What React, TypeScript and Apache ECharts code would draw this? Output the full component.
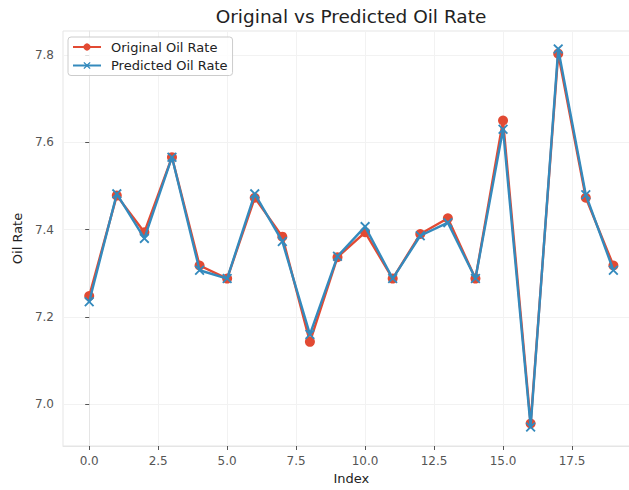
import React, { useEffect, useRef } from "react";
import * as echarts from "echarts";

const indices = [0, 1, 2, 3, 4, 5, 6, 7, 8, 9, 10, 11, 12, 13, 14, 15, 16, 17, 18, 19];
const originalOilRate = [7.248, 7.478, 7.394, 7.566, 7.318, 7.288, 7.473, 7.384, 7.143, 7.337, 7.394, 7.288, 7.39, 7.426, 7.288, 7.65, 6.956, 7.803, 7.473, 7.318];
const predictedOilRate = [7.235, 7.482, 7.38, 7.566, 7.307, 7.288, 7.482, 7.373, 7.16, 7.339, 7.407, 7.288, 7.386, 7.416, 7.288, 7.63, 6.948, 7.814, 7.48, 7.307];
const xTicks = [0, 2.5, 5, 7.5, 10, 12.5, 15, 17.5];
const yTicks = [7.0, 7.2, 7.4, 7.6, 7.8];

const RED = "#E24A33";
const BLUE = "#348ABD";
const FONT = "DejaVu Sans";
const X_PATH = "path://M0,1.3L1.3,0L5,3.7L8.7,0L10,1.3L6.3,5L10,8.7L8.7,10L5,6.3L1.3,10L0,8.7L3.7,5Z";

export default function App() {
  const ref = useRef<HTMLDivElement>(null);
  useEffect(() => {
    if (!ref.current) return;
    const chart = echarts.init(ref.current, undefined, { renderer: "svg" });
    const orig = indices.map((i, k) => [i, originalOilRate[k]]);
    const pred = indices.map((i, k) => [i, predictedOilRate[k]]);
    chart.setOption({
      animation: false,
      backgroundColor: "#ffffff",
      textStyle: { fontFamily: FONT },
      title: {
        text: "Original vs Predicted Oil Rate",
        left: 351,
        top: 7,
        padding: 0,
        textAlign: "center",
        textStyle: { fontSize: 18.5, fontWeight: "normal", color: "#222222", fontFamily: FONT },
      },
      legend: {
        orient: "vertical",
        left: 68,
        top: 37,
        padding: [3, 5, 3, 4],
        itemGap: 4.5,
        itemWidth: 28,
        itemHeight: 9,
        borderColor: "#cccccc",
        borderWidth: 1,
        borderRadius: 3,
        backgroundColor: "rgba(255,255,255,0.8)",
        textStyle: { fontSize: 13, color: "#222222", fontFamily: FONT, lineHeight: 14, padding: [0, 0, 0, 5] },
        data: ["Original Oil Rate", "Predicted Oil Rate"],
      },
      grid: {
        left: 63,
        top: 31,
        width: 576.6,
        height: 420,
        show: true,
        borderColor: "#e5e5e5",
        borderWidth: 1,
        backgroundColor: "#ffffff",
      },
      xAxis: {
        type: "value",
        min: -0.95,
        max: 19.95,
        name: "Index",
        nameLocation: "middle",
        nameGap: 26,
        nameTextStyle: { fontSize: 13, color: "#222222", fontFamily: FONT },
        axisLine: { show: true, lineStyle: { color: "#e5e5e5", width: 1 } },
        axisTick: { show: true, length: 4, lineStyle: { color: "#555555" }, customValues: xTicks },
        axisLabel: {
          customValues: xTicks,
          margin: 9,
          fontSize: 12,
          color: "#555555",
          fontFamily: FONT,
          formatter: (v: number) => v.toFixed(1),
        },
        splitLine: { show: true, lineStyle: { color: "#f2f2f2", width: 1 } },
      },
      yAxis: {
        type: "value",
        min: 6.9045,
        max: 7.855,
        name: "Oil Rate",
        nameLocation: "middle",
        nameGap: 38,
        nameTextStyle: { fontSize: 13, color: "#222222", fontFamily: FONT },
        axisLine: { show: true, lineStyle: { color: "#e5e5e5", width: 1 } },
        axisTick: { show: true, length: 4, lineStyle: { color: "#555555" }, customValues: yTicks },
        axisLabel: {
          customValues: yTicks,
          margin: 9,
          fontSize: 12,
          color: "#555555",
          fontFamily: FONT,
          formatter: (v: number) => v.toFixed(1),
        },
        splitLine: { show: true, lineStyle: { color: "#f2f2f2", width: 1 } },
      },
      series: [
        {
          name: "Original Oil Rate",
          type: "line",
          data: orig,
          symbol: "circle",
          symbolSize: 10,
          showAllSymbol: true,
          lineStyle: { color: RED, width: 2.4 },
          itemStyle: { color: RED },
          z: 2,
        },
        {
          name: "Predicted Oil Rate",
          type: "line",
          data: pred,
          symbol: X_PATH,
          symbolSize: 10,
          showAllSymbol: true,
          lineStyle: { color: BLUE, width: 2.4 },
          itemStyle: { color: BLUE },
          z: 3,
        },
      ],
    });
    return () => chart.dispose();
  }, []);
  return (
    <div style={{ position: "fixed", left: 0, top: 0, width: 629, height: 490, overflow: "hidden", background: "#ffffff" }}>
      <div ref={ref} style={{ width: 640, height: 490 }} />
    </div>
  );
}
